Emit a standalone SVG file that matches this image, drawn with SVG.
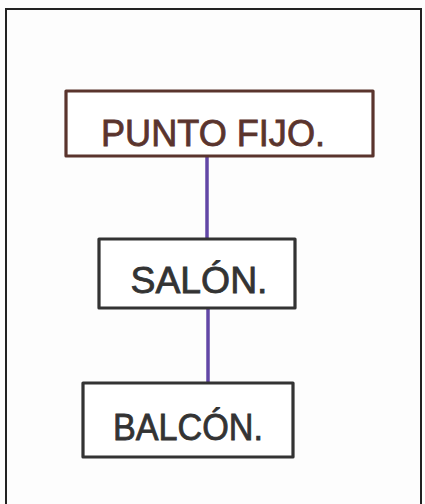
<svg xmlns="http://www.w3.org/2000/svg" width="425" height="504" viewBox="0 0 425 504">
  <style>
    .box { fill: #ffffff; stroke-width: 3.2; stroke-linejoin: round; }
    .lbl { font-family: "Liberation Sans", Arial, sans-serif; font-size: 36px; text-anchor: middle; stroke-width: 0.8; }
    .conn { stroke: #6247a6; stroke-width: 3.5; fill: none; }
  </style>
  <rect x="0" y="0" width="425" height="504" fill="#fdfdfd"/>
  <path d="M6 512 L6 9 L421 9 L421 512" fill="none" stroke="#222" stroke-width="2"/>
  <g id="connectors">
    <line class="conn" x1="207" y1="156" x2="207" y2="239"/>
    <line class="conn" x1="208" y1="308" x2="208" y2="385"/>
  </g>
  <g id="punto-fijo">
    <rect class="box" x="66" y="91" width="307" height="65" stroke="#5a342d"/>
    <text class="lbl" x="213" y="146" fill="#5a342d" stroke="#5a342d" textLength="224" lengthAdjust="spacingAndGlyphs">PUNTO FIJO.</text>
  </g>
  <g id="salon">
    <rect class="box" x="99" y="239" width="196" height="69" stroke="#333"/>
    <text class="lbl" x="199" y="293" fill="#333" stroke="#333" textLength="137" lengthAdjust="spacingAndGlyphs">SALÓN.</text>
  </g>
  <g id="balcon">
    <rect class="box" x="83" y="383" width="210" height="74" stroke="#333"/>
    <text class="lbl" x="188" y="440" fill="#333" stroke="#333" textLength="150" lengthAdjust="spacingAndGlyphs">BALCÓN.</text>
  </g>
</svg>
